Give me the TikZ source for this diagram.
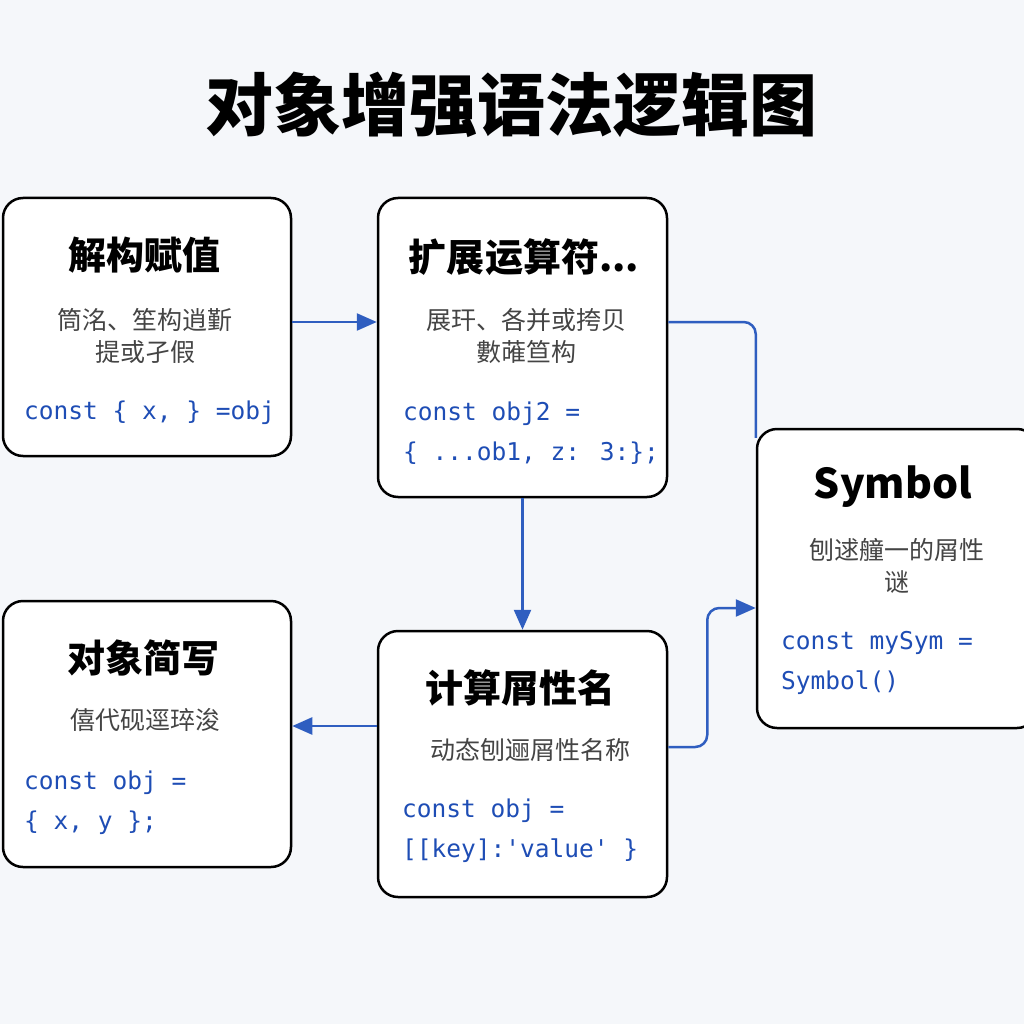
\documentclass[tikz,border=0pt]{standalone}
\usepackage{fontspec}
\setmainfont{Noto Sans}
\newfontfamily\cjk{Noto Sans CJK SC}
\newfontfamily\codefont{DejaVu Sans Mono}
\usetikzlibrary{arrows.meta}
\definecolor{bgc}{HTML}{F5F7FA}
\definecolor{linec}{HTML}{2F5EC0}
\definecolor{codec}{HTML}{1E4DB5}
\definecolor{subc}{HTML}{444444}
\tikzset{
  box/.style={draw=black, line width=2.5pt, rounded corners=20pt, fill=white, inner sep=0pt},
  ttl/.style={font=\cjk\bfseries\fontsize{38}{44}\selectfont, text=black, inner sep=0pt},
  sub/.style={font=\cjk\fontsize{25}{32}\selectfont, text=subc, inner sep=0pt, align=center},
  code/.style={font=\codefont\fontsize{24.5}{40}\selectfont, text=codec, inner sep=0pt, anchor=west, align=left},
  conn/.style={draw=linec, line width=2.5pt},
  arr/.style={conn, -{Triangle[length=20pt,width=17pt]}},
}
\begin{document}
\begin{tikzpicture}[x=1pt,y=-1pt]
\useasboundingbox[fill=bgc] (0,0) rectangle (1024,1024);
\node[font=\cjk\bfseries\fontsize{68}{72}\selectfont, inner sep=0pt] (title) at (511,105) {对象增强语法逻辑图};
% boxes
\node[box, minimum width=288pt, minimum height=258pt] (b1) at (147,327) {};
\node[box, minimum width=289pt, minimum height=299pt] (b2) at (522.5,347.5) {};
\node[box, minimum width=280pt, minimum height=299pt] (b3) at (897,578.5) {};
\node[box, minimum width=288pt, minimum height=266pt] (b4) at (147,734) {};
\node[box, minimum width=289pt, minimum height=266pt] (b5) at (522.5,764) {};
% box1
\node[ttl] (t1) at (144,255) {解构赋值};
\node[sub] (s1) at (145,336) {筒洺、笙构逍斳\\提或孑假};
\node[code] (c1) at (24,413) {const \{ x, \} =obj};
% box2
\node[ttl] (t2) at (524,257) {扩展运算符...};
\node[sub] (s2) at (526,336) {展玕、各并或挎贝\\數蓶笪构};
\node[code] (c2) at (403,433) {const obj2 =\\\{ ...ob1, z: 3:\};};
% box3
\node[font=\cjk\bfseries\fontsize{41}{44}\selectfont, inner sep=0pt] (t3) at (893,487) {Symbol};
\node[sub] (s3) at (897,566) {刨逑艟一的屑性\\谜};
\node[code] (c3) at (781,663) {const mySym =\\Symbol()};
% box4
\node[ttl] (t4) at (143,658) {对象简写};
\node[sub] (s4) at (145,720) {僖代砚逕琗浚};
\node[code] (c4) at (24,803) {const obj =\\\{ x, y \};};
% box5
\node[ttl] (t5) at (520,688) {计算屑性名};
\node[sub] (s5) at (530,750) {动态刨逦屑性名称};
\node[code] (c5) at (402,831) {const obj =\\{[}[key]:'value' \}};
% connectors
\draw[arr] ([yshift=5pt]b1.east) -- ([yshift=5pt]b1.east -| b2.west);
\draw[conn, rounded corners=12pt] ([yshift=25.5pt]b2.east) -| ([yshift=-10pt]b3.north west);
\draw[arr] (b2.south) -- (b5.north);
\draw[arr] ([yshift=38pt]b5.west) -- ([yshift=38pt]b5.west -| b4.east);
\coordinate (m5) at ([yshift=17pt]b5.east);
\coordinate (m3) at ([yshift=-29.5pt]b3.west);
\draw[arr, rounded corners=12pt] (m5) -- ++(39,0) |- (m3);
\end{tikzpicture}
\end{document}
